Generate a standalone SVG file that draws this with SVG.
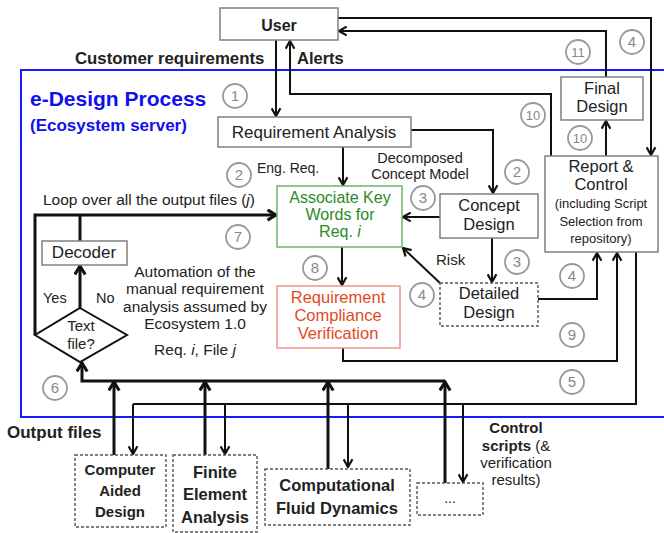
<svg xmlns="http://www.w3.org/2000/svg" width="664" height="533" viewBox="0 0 664 533">
<style>
text{font-family:"Liberation Sans",Arial,sans-serif;fill:#222}
.b{font-weight:bold}
.c{text-anchor:middle}
.box{fill:#fff;stroke:#808080;stroke-width:1.5}
.dash{fill:#fff;stroke:#555;stroke-width:1.4;stroke-dasharray:3 2}
.ln{fill:none;stroke:#111;stroke-width:2}
.tk{fill:none;stroke:#111;stroke-width:3}
.num circle{fill:#fff;stroke:#999;stroke-width:1.8}
.num text{fill:#888;font-size:15px;text-anchor:middle}
</style>
<defs>
<marker id="a" viewBox="0 0 10 10" markerUnits="userSpaceOnUse" markerWidth="11" markerHeight="11" refX="9" refY="5" orient="auto">
<path d="M2,1 L9,5 L2,9" fill="none" stroke="#111" stroke-width="2"/>
</marker>
<marker id="ak" viewBox="0 0 10 10" markerUnits="userSpaceOnUse" markerWidth="13" markerHeight="13" refX="8.5" refY="5" orient="auto">
<path d="M2,1 L8.5,5 L2,9" fill="none" stroke="#111" stroke-width="2.4"/>
</marker>
</defs>
<rect width="664" height="533" fill="#fff"/>
<rect id="frame" x="21" y="70" width="700" height="347" fill="none" stroke="#1a1aff" stroke-width="2"/>
<text x="30" y="106" class="b" style="font-size:21px;fill:#1010ee">e-Design Process</text>
<text x="30" y="131" class="b" style="font-size:17px;fill:#1010ee">(Ecosystem server)</text>

<g id="connectors">
<path class="ln" d="M276,40 V116" marker-end="url(#a)"/>
<path class="ln" d="M551,156 V94 H290 V41" marker-end="url(#a)"/>
<path class="ln" d="M338,18 H651 V155" marker-end="url(#a)"/>
<path class="ln" d="M606,77 V31 H339" marker-end="url(#a)"/>
<path class="ln" d="M606,156 V121" marker-end="url(#a)"/>
<path class="ln" d="M343,147 V185" marker-end="url(#a)"/>
<path class="ln" d="M411,130 H493 V193" marker-end="url(#a)"/>
<path class="ln" d="M440,217 H403" marker-end="url(#a)"/>
<path class="ln" d="M492,238 V282" marker-end="url(#a)"/>
<path class="ln" d="M440,283 L403,248" marker-end="url(#a)"/>
<path class="ln" d="M538,299 H597 V253" marker-end="url(#a)"/>
<path class="ln" d="M342,247 V285" marker-end="url(#a)"/>
<path class="ln" d="M343,348 V361 H617 V253" marker-end="url(#a)"/>
<path class="ln" d="M636,252 V404 H133"/>
<path class="ln" d="M133,404 V454" marker-end="url(#a)"/>
<path class="ln" d="M225,404 V454" marker-end="url(#a)"/>
<path class="ln" d="M348,404 V467" marker-end="url(#a)"/>
<path class="ln" d="M463,404 V482" marker-end="url(#a)"/>
<path class="tk" d="M114,455 V382" marker-end="url(#ak)"/>
<path class="tk" d="M205,455 V382" marker-end="url(#ak)"/>
<path class="tk" d="M328,469 V382" marker-end="url(#ak)"/>
<path class="tk" d="M445,483 V382" marker-end="url(#ak)"/>
<path class="tk" d="M445,381 H82 V363" marker-end="url(#ak)"/>
<path class="tk" d="M80,308 V266" marker-end="url(#ak)"/>
<path class="tk" d="M80,241 V215"/>
<path class="tk" d="M35,335 V215 H276" marker-end="url(#ak)"/>
</g>

<g id="user"><rect class="box" x="220" y="8" width="118" height="32"/><text x="279" y="31" class="b c" style="font-size:16px">User</text></g>
<text x="75" y="64" class="b" style="font-size:16.8px">Customer requirements</text>
<text x="297" y="64" class="b" style="font-size:16.5px">Alerts</text>

<g id="req-analysis"><rect class="box" x="218" y="117" width="193" height="30"/><text x="314" y="138" class="c" style="font-size:17px">Requirement Analysis</text></g>
<text x="257" y="173" style="font-size:14px">Eng. Req.</text>
<text x="420" y="163" class="c" style="font-size:14.5px">Decomposed</text>
<text x="420" y="179" class="c" style="font-size:14.5px">Concept Model</text>

<g id="associate"><rect x="277" y="186" width="125" height="61" fill="#fff" stroke="#6cb86c" stroke-width="1.5"/>
<text class="c" style="font-size:16px;fill:#2a8a2a"><tspan x="340" y="203">Associate Key</tspan><tspan x="340" y="220">Words for</tspan><tspan x="340" y="237">Req. <tspan font-style="italic">i</tspan></tspan></text></g>

<g id="concept"><rect class="box" x="440" y="194" width="98" height="44"/><text class="c" style="font-size:16.5px"><tspan x="489" y="211">Concept</tspan><tspan x="489" y="230">Design</tspan></text></g>
<g id="detailed"><rect class="dash" x="440" y="283" width="98" height="43"/><text class="c" style="font-size:16.5px"><tspan x="489" y="299">Detailed</tspan><tspan x="489" y="318">Design</tspan></text></g>
<text x="436" y="265" style="font-size:15px">Risk</text>

<g id="rcv"><rect x="277" y="286" width="123" height="62" fill="#fff" stroke="#f0958a" stroke-width="1.5"/>
<text class="c" style="font-size:16.5px;fill:#e24a1e"><tspan x="338" y="303">Requirement</tspan><tspan x="338" y="321">Compliance</tspan><tspan x="338" y="339">Verification</tspan></text></g>

<g id="final"><rect class="box" x="561" y="77" width="82" height="43"/><text class="c" style="font-size:16.5px"><tspan x="602" y="94">Final</tspan><tspan x="602" y="112">Design</tspan></text></g>

<g id="report"><rect class="box" x="545" y="156" width="113" height="96"/>
<text class="c" style="font-size:16.5px"><tspan x="601" y="172">Report &amp;</tspan><tspan x="601" y="190">Control</tspan></text>
<text class="c" style="font-size:13px"><tspan x="601" y="208">(including Script</tspan><tspan x="601" y="226">Selection from</tspan><tspan x="601" y="243">repository)</tspan></text></g>

<text x="43" y="205" style="font-size:15.5px">Loop over all the output files (<tspan font-style="italic">j</tspan>)</text>
<g id="decoder"><rect class="box" x="42" y="241" width="85" height="24"/><text x="84" y="258" class="c" style="font-size:17px">Decoder</text></g>
<g id="textfile"><path d="M80,308 L127,335 L80,362 L35,335 Z" fill="#fff" stroke="#111" stroke-width="2"/>
<text class="c" style="font-size:15px"><tspan x="81" y="331">Text</tspan><tspan x="81" y="349">file?</tspan></text></g>
<text x="43" y="303" style="font-size:14.5px">Yes</text>
<text x="96" y="303" style="font-size:14.5px">No</text>
<text class="c" style="font-size:15.5px"><tspan x="195" y="277">Automation of the</tspan><tspan x="195" y="294">manual requirement</tspan><tspan x="195" y="312">analysis assumed by</tspan><tspan x="195" y="329">Ecosystem 1.0</tspan></text>
<text x="195" y="355" class="c" style="font-size:15.5px">Req. <tspan font-style="italic">i</tspan>, File <tspan font-style="italic">j</tspan></text>

<text x="7" y="438" class="b" style="font-size:17px">Output files</text>
<text class="c" style="font-size:15px"><tspan x="516" y="433" font-weight="bold">Control</tspan><tspan x="516" y="451"><tspan font-weight="bold">scripts</tspan> (&amp;</tspan><tspan x="516" y="468">verification</tspan><tspan x="516" y="485">results)</tspan></text>

<g id="cad"><rect class="dash" x="75" y="455" width="91" height="72"/><text class="b c" style="font-size:15px"><tspan x="120" y="475">Computer</tspan><tspan x="120" y="496">Aided</tspan><tspan x="120" y="517">Design</tspan></text></g>
<g id="fea"><rect class="dash" x="173" y="455" width="84" height="77"/><text class="b c" style="font-size:16.5px"><tspan x="215" y="478">Finite</tspan><tspan x="215" y="500">Element</tspan><tspan x="215" y="523">Analysis</tspan></text></g>
<g id="cfd"><rect class="dash" x="265" y="469" width="145" height="56"/><text class="b c" style="font-size:16.5px"><tspan x="337" y="491">Computational</tspan><tspan x="337" y="514">Fluid Dynamics</tspan></text></g>
<g id="more"><rect class="dash" x="417" y="483" width="66" height="32"/><text x="450" y="503" class="c" style="font-size:14px">...</text></g>

<g class="num">
<circle cx="235" cy="96" r="12"/><text x="235" y="101">1</text>
<circle cx="239" cy="175" r="12"/><text x="239" y="180">2</text>
<circle cx="517" cy="172" r="12"/><text x="517" y="177">2</text>
<circle cx="423" cy="198" r="12"/><text x="423" y="203">3</text>
<circle cx="517" cy="262" r="12"/><text x="517" y="267">3</text>
<circle cx="422" cy="295" r="12"/><text x="422" y="300">4</text>
<circle cx="572" cy="276" r="12"/><text x="572" y="281">4</text>
<circle cx="632" cy="42" r="12"/><text x="632" y="47">4</text>
<circle cx="572" cy="382" r="12"/><text x="572" y="387">5</text>
<circle cx="55" cy="388" r="12"/><text x="55" y="393">6</text>
<circle cx="238" cy="237" r="12"/><text x="238" y="242">7</text>
<circle cx="315" cy="268" r="12"/><text x="315" y="273">8</text>
<circle cx="572" cy="335" r="12"/><text x="572" y="340">9</text>
<circle cx="533" cy="115" r="12"/><text x="533" y="120" style="font-size:13px">10</text>
<circle cx="580" cy="138" r="12"/><text x="580" y="143" style="font-size:13px">10</text>
<circle cx="578" cy="52" r="12"/><text x="578" y="57" style="font-size:13px">11</text>
</g>
</svg>
